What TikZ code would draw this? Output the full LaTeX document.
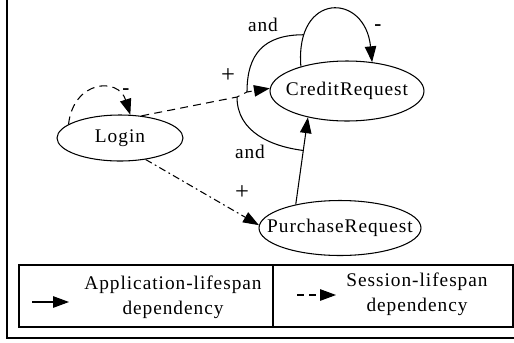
\documentclass[tikz,border=0pt]{standalone}
\usepackage{fontspec}
\setmainfont{Liberation Serif}[LetterSpace=5]
\usetikzlibrary{arrows.meta,shapes.geometric}

\begin{document}
\begin{tikzpicture}[x=0.02cm, y=0.02cm,
  state/.style={draw, ellipse, line width=0.6pt, inner xsep=-14pt, inner ysep=-2pt,
    font=\fontsize{11}{13}\selectfont},
  andline/.style={line width=0.6pt},
  appdep/.style={andline, -{Triangle[length=9pt,width=6.5pt]}},
  sessdep/.style={appdep, dash pattern=on 4.5pt off 3pt},
  sign/.style={font=\fontsize{11}{13}\selectfont, inner sep=0pt},
  plus/.style={sign, font=\fontsize{14}{14}\selectfont},
  minus/.style={sign, font=\fontsize{12}{13}\selectfont\bfseries},
  legcell/.style={draw, line width=0.6pt, minimum height=1.24cm},
  legtext/.style={align=center, inner sep=0pt, font=\fontsize{11}{14}\selectfont}
]
\useasboundingbox (0,0) rectangle (514,-342);
\coordinate (frametop) at (7,2);
\coordinate (framecorner) at (7,-338);
\coordinate (frameend) at (516,-338);
\draw[line width=1.1pt] (frametop) -- (framecorner) -- (frameend);

\node[state, minimum width=2.52cm, minimum height=0.92cm] (login) at (120,-138) {Login};
\node[state, minimum width=3.08cm, minimum height=1.2cm] (credit) at (347,-91) {CreditRequest};
\node[state, minimum width=3.24cm, minimum height=1.1cm] (purchase) at (340,-228) {PurchaseRequest};

\coordinate (andlo) at (237,-97);
\coordinate (andhi) at (247,-92);

\draw[sessdep] (login.165) .. controls +(5,44) and +(-12,38) .. (login.66);
\draw[sessdep] (login.46) -- (andlo) -- (andhi) -- (credit.178);
\draw[appdep, dash pattern=on 4pt off 2pt on 1pt off 2pt] (login.-40) -- (purchase.178);
\draw[appdep] (purchase.152) -- (credit.214) coordinate[pos=0.62] (purchand);
\draw[appdep] (credit.152) .. controls +(-6,75) and +(-7,70) .. (credit.49) coordinate[pos=0.17] (loopand);
\draw[andline] (loopand) .. controls +(-40,0) and +(0,38) .. (andhi);
\draw[andline] (andlo) .. controls +(0,-35) and +(-32,4) .. (purchand);

\node[minus] (loginminus) at (126,-92) {-};
\node[minus] (creditminus) at (378,-28) {-};
\node[plus] (creditplus) at (228,-76) {+};
\node[plus] (purchaseplus) at (242,-193) {+};
\node[sign] (andup) at (263,-25) {and};
\node[sign] (anddown) at (250,-152) {and};

\node[legcell, minimum width=5.08cm] (appcell) at (146,-296) {};
\node[legcell, minimum width=4.8cm] (sesscell) at (393,-296) {};
\node[legtext] (apptext) at (173,-297) {Application-lifespan\\dependency};
\node[legtext] (sesstext) at (417,-294) {Session-lifespan\\dependency};
\coordinate (appfrom) at (32,-302);
\coordinate (appto) at (69,-302);
\coordinate (sessfrom) at (297,-295);
\coordinate (sessto) at (336,-295);
\draw[appdep] (appfrom) -- (appto);
\draw[appdep, dash pattern=on 4pt off 3pt] (sessfrom) -- (sessto);
\end{tikzpicture}
\end{document}
